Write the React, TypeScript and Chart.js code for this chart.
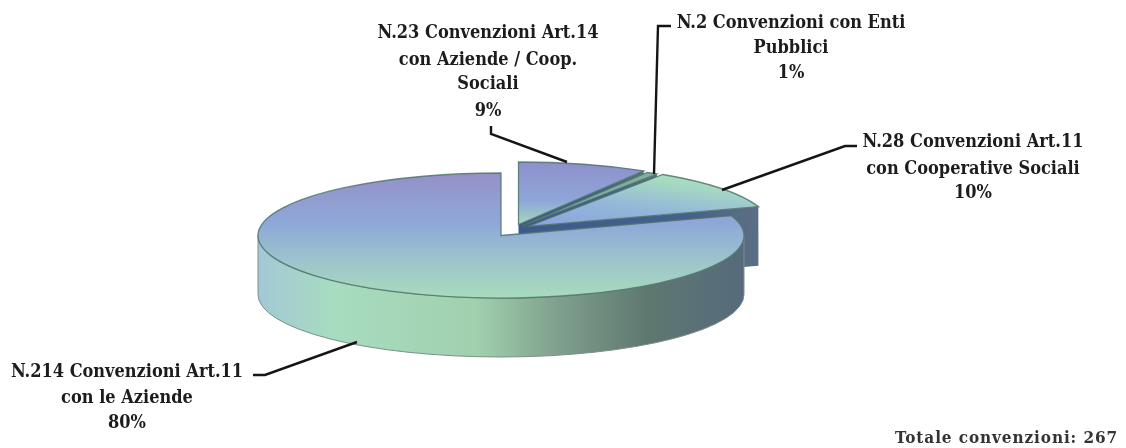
import React, { useEffect, useRef } from "react";
import { Chart, registerables } from "chart.js";

Chart.register(...registerables);

const categories = [
  "N.23 Convenzioni Art.14 con Aziende / Coop. Sociali",
  "N.2 Convenzioni con Enti Pubblici",
  "N.28 Convenzioni Art.11 con Cooperative Sociali",
  "N.214 Convenzioni Art.11 con le Aziende",
];
const values = [23, 2, 28, 214];
const explodeX = [3.5, 7, 13, -14];
const explodeY = [-5.5, -4, -3.5, 5.5];

const labelLines = [
  ["N.23 Convenzioni Art.14", "con Aziende / Coop.", "Sociali", "9%"],
  ["N.2 Convenzioni con Enti", "Pubblici", "1%"],
  ["N.28 Convenzioni Art.11", "con Cooperative Sociali", "10%"],
  ["N.214 Convenzioni Art.11", "con le Aziende", "80%"],
];
const labelX = [488, 791, 973, 127];
const labelY = [
  [33, 60, 84, 111],
  [23, 48, 73],
  [142, 169, 193],
  [372, 398, 423],
];
const leaders = [
  [[491, 126], [491, 134], [567, 162]],
  [[671, 26], [658, 26], [654, 174]],
  [[857, 146], [845, 146], [722, 190]],
  [[253, 375], [265, 375], [357, 342]],
];
const totalText = "Totale convenzioni: 267";

const CX = 515;
const CY = 230;
const R = 243;
const K = 62.5 / 243;
const DEPTH = 59;
const FONT = "bold 18px 'DejaVu Serif Condensed', 'DejaVu Serif', serif";

const ys = (y: number) => CY + (y - CY) / K;

function sliceFill(ctx: CanvasRenderingContext2D, i: number) {
  if (i === 0) {
    const g = ctx.createLinearGradient(0, ys(163), 0, ys(226));
    g.addColorStop(0, "#8e90cc");
    g.addColorStop(0.6, "#8fa6d8");
    g.addColorStop(1, "#a4dcbc");
    return g;
  }
  if (i === 1) return "#7fae9c";
  if (i === 2) {
    const g = ctx.createLinearGradient(540, ys(226), 640, ys(176));
    g.addColorStop(0, "#8ca2de");
    g.addColorStop(0.5, "#93b8d8");
    g.addColorStop(1, "#a8dcc0");
    return g;
  }
  const g = ctx.createLinearGradient(0, ys(173), 0, ys(298));
  g.addColorStop(0, "#9590c8");
  g.addColorStop(0.4, "#8ea8d8");
  g.addColorStop(0.7, "#9cc4cc");
  g.addColorStop(1, "#a8dcbc");
  return g;
}

const pie3d = {
  id: "pie3d",
  afterDatasetsUpdate(chart: any) {
    const arcs = chart.getDatasetMeta(0).data;
    arcs.forEach((arc: any, i: number) => {
      arc.x = CX + explodeX[i];
      arc.y = CY + explodeY[i] / K;
      arc.outerRadius = R;
    });
  },
  beforeDatasetsDraw(chart: any) {
    const ctx: CanvasRenderingContext2D = chart.ctx;
    const arcs = chart.getDatasetMeta(0).data;
    const d = DEPTH / K;
    ctx.save();
    ctx.translate(CX, CY);
    ctx.scale(1, K);
    ctx.translate(-CX, -CY);

    arcs.forEach((arc: any, i: number) => {
      // radial cut face at the slice's clockwise end
      if (i < 3) {
        const tipX = arc.x + R * Math.cos(arc.endAngle);
        const tipY = arc.y + R * Math.sin(arc.endAngle);
        const g = ctx.createLinearGradient(arc.x, 0, tipX, 0);
        g.addColorStop(0, "#3f5a8a");
        g.addColorStop(0.7, "#44618c");
        g.addColorStop(0.9, "#566c84");
        g.addColorStop(1, "#5a6e84");
        ctx.fillStyle = g;
        ctx.beginPath();
        ctx.moveTo(arc.x, arc.y);
        ctx.lineTo(tipX, tipY);
        ctx.lineTo(tipX, tipY + d);
        ctx.lineTo(arc.x, arc.y + d);
        ctx.closePath();
        ctx.fill();
      }
    });

    // outer curved wall of the large slice
    const main = arcs[3];
    const g = ctx.createLinearGradient(main.x - R, 0, main.x + R, 0);
    g.addColorStop(0, "#a2c8d6");
    g.addColorStop(0.16, "#a8dcc0");
    g.addColorStop(0.45, "#a0d0ae");
    g.addColorStop(0.62, "#7f9f8c");
    g.addColorStop(0.8, "#5e7870");
    g.addColorStop(1, "#566a7c");
    ctx.fillStyle = g;
    ctx.beginPath();
    ctx.arc(main.x, main.y, R, 0, Math.PI, false);
    ctx.lineTo(main.x - R, main.y + d);
    ctx.arc(main.x, main.y + d, R, Math.PI, 0, true);
    ctx.closePath();
    ctx.fill();
    ctx.setTransform(1, 0, 0, 1, 0, 0);
    ctx.strokeStyle = "#7c9088";
    ctx.lineWidth = 1;
    ctx.stroke();
    ctx.restore();

    ctx.save();
    ctx.translate(CX, CY);
    ctx.scale(1, K);
    ctx.translate(-CX, -CY);
  },
  afterDatasetsDraw(chart: any) {
    const ctx: CanvasRenderingContext2D = chart.ctx;
    const arcs = chart.getDatasetMeta(0).data;
    // outline of the top faces
    arcs.forEach((arc: any) => {
      ctx.beginPath();
      ctx.moveTo(arc.x, arc.y);
      ctx.arc(arc.x, arc.y, R, arc.startAngle, arc.endAngle);
      ctx.closePath();
      ctx.save();
      ctx.setTransform(1, 0, 0, 1, 0, 0);
      ctx.strokeStyle = "rgba(80,118,108,0.85)";
      ctx.lineWidth = 1.3;
      ctx.stroke();
      ctx.restore();
    });
    ctx.restore();

    // leader lines
    ctx.save();
    ctx.strokeStyle = "#151515";
    ctx.lineWidth = 2.4;
    ctx.lineJoin = "miter";
    leaders.forEach((pts) => {
      ctx.beginPath();
      pts.forEach(([x, y], j) => (j ? ctx.lineTo(x, y) : ctx.moveTo(x, y)));
      ctx.stroke();
    });

    // labels
    ctx.fillStyle = "#1c1c1c";
    ctx.font = FONT;
    ctx.textAlign = "center";
    ctx.textBaseline = "middle";
    labelLines.forEach((lines, i) => {
      lines.forEach((t, j) => ctx.fillText(t, labelX[i], labelY[i][j]));
    });
    ctx.font = "bold 17px 'DejaVu Serif Condensed', 'DejaVu Serif', serif";
    (ctx as any).letterSpacing = "0.9px";
    ctx.fillStyle = "#333333";
    ctx.textAlign = "right";
    ctx.fillText(totalText, 1118, 439);
    ctx.restore();
  },
};

export default function App() {
  const ref = useRef<HTMLCanvasElement>(null);
  useEffect(() => {
    const chart = new Chart(ref.current!, {
      type: "pie",
      data: {
        labels: categories,
        datasets: [
          {
            data: values,
            clip: false,
            borderWidth: 0,
            backgroundColor: (c: any) => sliceFill(c.chart.ctx, c.dataIndex),
          } as any,
        ],
      },
      options: {
        responsive: false,
        animation: false,
        radius: R,
        layout: { padding: { left: 0, right: 96, top: 12, bottom: 0 } },
        plugins: { legend: { display: false }, tooltip: { enabled: false }, title: { display: false } },
      } as any,
      plugins: [pie3d],
    });
    return () => chart.destroy();
  }, []);
  return (
    <div style={{ position: "absolute", left: 0, top: 0, width: 1126, height: 448, background: "#fff" }}>
      <canvas ref={ref} width={1126} height={448} style={{ display: "block" }} />
    </div>
  );
}
